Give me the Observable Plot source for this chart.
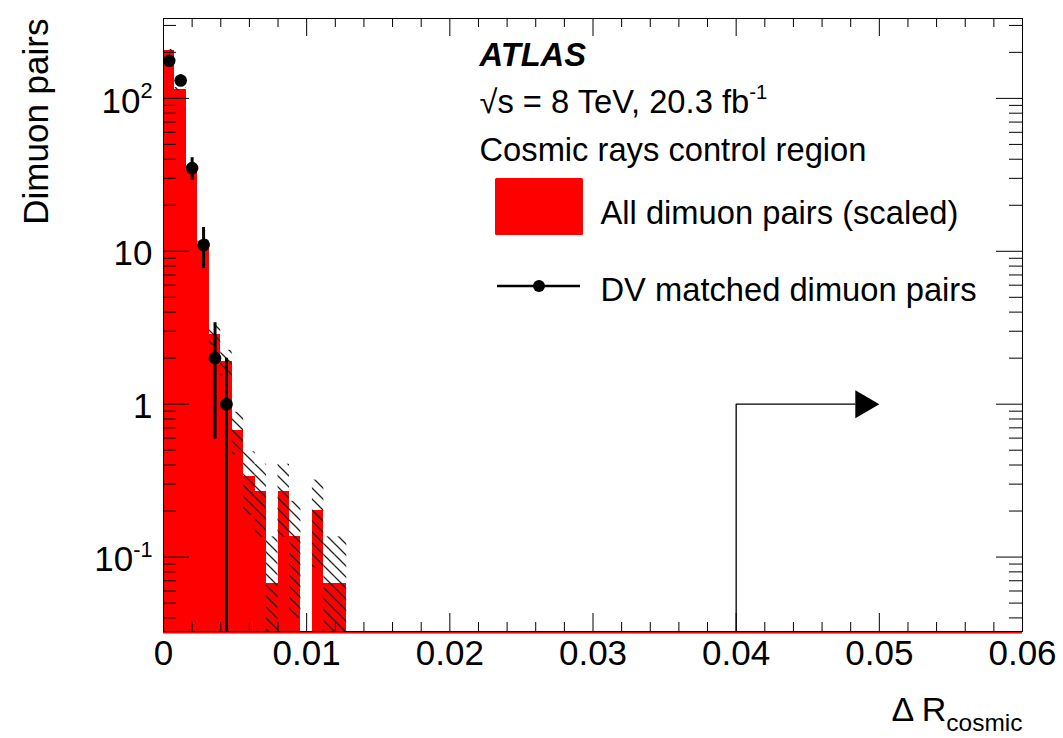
<!DOCTYPE html>
<html>
<head>
<meta charset="utf-8">
<script src="https://cdn.jsdelivr.net/npm/d3@7"></script>
<script src="https://cdn.jsdelivr.net/npm/@observablehq/plot@0.6"></script>
<style>
  html, body { margin: 0; padding: 0; background: #fff; }
  #chart svg { display: block; }
</style>
</head>
<body>
<div id="chart"></div>
<script>
// ---------------- data ----------------
const binEdges = [0, 0.0008, 0.0016, 0.0024, 0.0032, 0.004, 0.0048, 0.0056, 0.0064,
                  0.0072, 0.008, 0.0088, 0.0096, 0.0104, 0.0112, 0.012, 0.0128];
// "All dimuon pairs (scaled)" histogram
const allValues = [205, 115, 34.5, 11.1, 2.86, 1.89, 0.676, 0.338, 0.27,
                   0.0676, 0.27, 0.1355, 0, 0.202, 0.0676, 0.0676];
const allErrors = [3.72, 2.79, 1.53, 0.87, 0.44, 0.36, 0.21, 0.15, 0.135,
                   0.068, 0.135, 0.096, 0, 0.117, 0.068, 0.068];
// "DV matched dimuon pairs"
const dvX = [0.0004, 0.0012, 0.002, 0.0028, 0.0036, 0.0044];
const dvValues = [176, 131, 35, 11, 2, 1];
const dvErrors = [13.3, 11.4, 5.9, 3.3, 1.41, 1.0];
// cut arrow
const cutX = 0.04, cutY = 1, arrowLineEnd = 0.0483, arrowTip = 0.05;

// axes
const xMajor = [0, 0.01, 0.02, 0.03, 0.04, 0.05, 0.06];
const xTickLabels = ["0", "0.01", "0.02", "0.03", "0.04", "0.05", "0.06"];
const xMinor = [0.002, 0.004, 0.006, 0.008, 0.012, 0.014, 0.016, 0.018,
                0.022, 0.024, 0.026, 0.028, 0.032, 0.034, 0.036, 0.038,
                0.042, 0.044, 0.046, 0.048, 0.052, 0.054, 0.056, 0.058];
const yMajor = [0.1, 1, 10, 100];
const yTickLabels = ["10^{-1}", "1", "10", "10^{2}"];
const yMinor = [0.04, 0.05, 0.06, 0.07, 0.08, 0.09,
                0.2, 0.3, 0.4, 0.5, 0.6, 0.7, 0.8, 0.9,
                2, 3, 4, 5, 6, 7, 8, 9,
                20, 30, 40, 50, 60, 70, 80, 90,
                200, 300];
const yDomain = [0.0326, 333];
const xDomain = [0, 0.06];

// ---------------- layout ----------------
const W = 1063, H = 738, mL = 163, mR = 41, mT = 18, mB = 107;
const plotW = W - mL - mR, plotH = H - mT - mB;
const yMin = yDomain[0];

const bins = allValues.map((v, i) => ({x0: binEdges[i], x1: binEdges[i + 1], v, e: allErrors[i]}));
const filled = bins.filter(d => d.v > 0);
const dv = dvValues.map((v, i) => ({x: dvX[i], v, e: dvErrors[i]}));

const arrowHead = {
  draw(ctx) { ctx.moveTo(0, 0); ctx.lineTo(-24, -14); ctx.lineTo(-24, 14); ctx.closePath(); }
};

const fam = "'Liberation Sans', Arial, Helvetica, sans-serif";
const legendFs = 32.7;

const svg = Plot.plot({
  width: W, height: H,
  marginLeft: mL, marginRight: mR, marginTop: mT, marginBottom: mB,
  style: {fontFamily: fam, background: "#fff", color: "#000"},
  x: {domain: xDomain},
  y: {type: "log", domain: yDomain},
  marks: [
    // red histogram
    Plot.rect(filled, {x1: "x0", x2: "x1", y1: yMin, y2: "v", fill: "#ff0000", shapeRendering: "crispEdges", clip: true}),
    // hatched error band
    Plot.rect(filled, {x1: "x0", x2: "x1", y1: d => Math.max(d.v - d.e, yMin), y2: d => d.v + d.e, fill: "url(#hatch)", clip: true}),
    // red baseline of the histogram
    Plot.ruleY([yMin], {stroke: "#ff0000", strokeWidth: 2, dy: 1}),
    Plot.frame({stroke: "#000", strokeWidth: 1}),
    // inward ticks
    Plot.tickX(xMajor, {x: d => d, insetTop: plotH - 18, stroke: "#000"}),
    Plot.tickX(xMinor, {x: d => d, insetTop: plotH - 9, stroke: "#000"}),
    Plot.tickX(xMajor, {x: d => d, insetBottom: plotH - 18, stroke: "#000"}),
    Plot.tickX(xMinor, {x: d => d, insetBottom: plotH - 9, stroke: "#000"}),
    Plot.tickY(yMajor, {y: d => d, insetRight: plotW - 26, stroke: "#000"}),
    Plot.tickY(yMinor, {y: d => d, insetRight: plotW - 13, stroke: "#000"}),
    Plot.tickY(yMajor, {y: d => d, insetLeft: plotW - 26, stroke: "#000"}),
    Plot.tickY(yMinor, {y: d => d, insetLeft: plotW - 13, stroke: "#000"}),
    // tick labels
    Plot.axisX({ticks: xMajor, tickSize: 0, tickPadding: 9, fontSize: 35, label: null,
                tickFormat: d => xTickLabels[xMajor.indexOf(d)]}),
    Plot.axisY({ticks: yMajor, tickSize: 0, tickPadding: 11, fontSize: 35, label: null, dy: 3,
                tickFormat: d => yTickLabels[yMajor.indexOf(d)]}),
    // cut arrow
    Plot.line([[cutX, yMin], [cutX, cutY], [arrowLineEnd, cutY]], {stroke: "#000", strokeWidth: 1.3}),
    Plot.dot([[arrowTip, cutY]], {symbol: arrowHead, fill: "#000", r: 10}),
    // DV matched points
    Plot.ruleX(dv, {x: "x", y1: d => Math.max(d.v - d.e, yMin), y2: d => d.v + d.e, stroke: "#000", strokeWidth: 3, clip: true}),
    Plot.dot(dv, {x: "x", y: "v", r: 6.3, fill: "#000"}),
    // axis titles
    Plot.text(["Dimuon pairs"], {frameAnchor: "top-left", text: d => d, rotate: -90, textAnchor: "end",
                                 lineAnchor: "bottom", dx: 47 - mL, dy: 0, fontSize: 35}),
    Plot.text(["Δ R_{cosmic}"], {frameAnchor: "bottom-right", text: d => d, textAnchor: "end",
                                 lineAnchor: "bottom", dx: 0, dy: 720 - (H - mB), fontSize: 34}),
    // legend / labels
    Plot.text(["ATLAS"], {frameAnchor: "top-left", text: d => d, textAnchor: "start", lineAnchor: "bottom",
                          dx: 479 - mL, dy: 65 - mT, fontSize: legendFs, fontWeight: "bold", fontStyle: "italic"}),
    Plot.text(["√s = 8 TeV, 20.3 fb^{-1}"], {frameAnchor: "top-left", text: d => d, textAnchor: "start", lineAnchor: "bottom",
                          dx: 479 - mL, dy: 112 - mT, fontSize: legendFs}),
    Plot.text(["Cosmic rays control region"], {frameAnchor: "top-left", text: d => d, textAnchor: "start", lineAnchor: "bottom",
                          dx: 479 - mL, dy: 160 - mT, fontSize: legendFs}),
    Plot.text(["All dimuon pairs (scaled)"], {frameAnchor: "top-left", text: d => d, textAnchor: "start", lineAnchor: "bottom",
                          dx: 600 - mL, dy: 223 - mT, fontSize: legendFs}),
    Plot.text(["DV matched dimuon pairs"], {frameAnchor: "top-left", text: d => d, textAnchor: "start", lineAnchor: "bottom",
                          dx: 600 - mL, dy: 300 - mT, fontSize: legendFs})
  ]
});

document.getElementById("chart").appendChild(svg);

// hatch pattern
const defs = d3.select(svg).insert("defs", ":first-child");
const pat = defs.append("pattern").attr("id", "hatch").attr("patternUnits", "userSpaceOnUse")
  .attr("width", 11).attr("height", 11);
pat.append("path").attr("d", "M0,0 L11,11 M-2,9 L2,13 M9,-2 L13,2")
  .attr("stroke", "#222").attr("stroke-width", 1.3).attr("fill", "none");

// legend swatches
const lg = d3.select(svg).append("g");
lg.append("rect").attr("x", 495).attr("y", 178).attr("width", 88).attr("height", 57)
  .attr("fill", "#ff0000").attr("rx", 1.5);
lg.append("line").attr("x1", 497).attr("x2", 580).attr("y1", 286).attr("y2", 286)
  .attr("stroke", "#000").attr("stroke-width", 2.6);
lg.append("circle").attr("cx", 539).attr("cy", 286).attr("r", 6).attr("fill", "#000");

// super/subscript markup
function richify(root) {
  const ns = "http://www.w3.org/2000/svg";
  root.querySelectorAll("text").forEach(t => {
    const s = t.textContent;
    if (!/[\^_]\{/.test(s)) return;
    const fs = parseFloat(getComputedStyle(t).fontSize) || 16;
    while (t.firstChild) t.removeChild(t.firstChild);
    const re = /([\^_])\{([^}]*)\}/g;
    let last = 0, m, cur = 0;
    const add = (txt, dy, size) => {
      const ts = document.createElementNS(ns, "tspan");
      ts.textContent = txt;
      if (dy) ts.setAttribute("dy", dy);
      if (size) ts.setAttribute("font-size", size);
      t.appendChild(ts);
    };
    while ((m = re.exec(s))) {
      if (m.index > last) { add(s.slice(last, m.index), cur ? -cur : 0); cur = 0; }
      const off = m[1] === "^" ? -0.42 * fs : 0.3 * fs;
      const size = m[1] === "^" ? 0.62 * fs : 0.72 * fs;
      add(m[2], off - cur, size);
      cur = off;
      last = re.lastIndex;
    }
    if (last < s.length) add(s.slice(last), cur ? -cur : 0);
  });
}
richify(svg);
</script>
</body>
</html>
